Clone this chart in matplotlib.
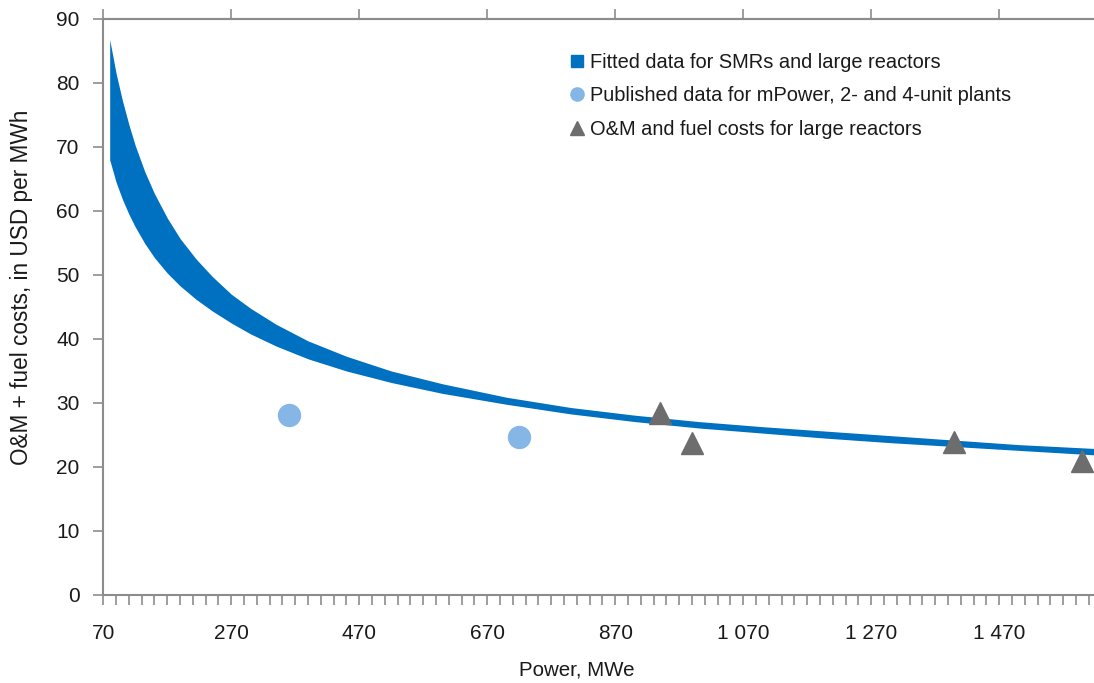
import matplotlib
matplotlib.use("Agg")
import matplotlib.pyplot as plt
from matplotlib.lines import Line2D
import numpy as np

plt.rcParams['font.family'] = ['Liberation Sans', 'DejaVu Sans']

# Fitted band (upper / lower bounds)
band_x = [80, 90, 100, 110, 120, 135, 150, 170, 190, 215, 240, 270, 300, 340, 390,
          450, 520, 600, 700, 800, 900, 1000, 1100, 1200, 1300, 1400, 1500, 1618]
band_upper = [86.8, 81.5, 77.2, 73.5, 70.2, 66.1, 62.7, 58.9, 55.7, 52.5, 49.8, 47.0, 44.8,
              42.3, 39.7, 37.3, 35.0, 33.0, 30.9, 29.3, 28.1, 27.1, 26.3, 25.6, 24.9, 24.2,
              23.5, 22.9]
band_lower = [68.0, 64.5, 61.8, 59.5, 57.5, 54.9, 52.7, 50.3, 48.3, 46.2, 44.4, 42.5, 40.8,
              38.9, 36.9, 35.0, 33.2, 31.5, 29.8, 28.3, 27.1, 26.1, 25.3, 24.5, 23.8, 23.2,
              22.6, 21.9]

# Published data (mPower 2- and 4-unit plants)
pub_x = [360, 720]
pub_y = [28.2, 24.7]

# Large reactors O&M + fuel costs
large_x = [940, 990, 1400, 1600]
large_y = [28.4, 23.8, 23.9, 20.9]

xtick_vals = [70, 270, 470, 670, 870, 1070, 1270, 1470]
xtick_labels = ["70", "270", "470", "670", "870", "1 070", "1 270", "1 470"]
ytick_vals = [0, 10, 20, 30, 40, 50, 60, 70, 80, 90]

legend_labels = ["Fitted data for SMRs and large reactors",
                 "Published data for mPower, 2- and 4-unit plants",
                 "O&M and fuel costs for large reactors"]

BLUE = "#0070C0"
LIGHT = "#85B6E6"
GRAY = "#6D6D6D"
AX = "#8C8C8C"
TXT = "#1a1a1a"

fig = plt.figure(figsize=(10.94, 6.83), dpi=100)
ax = fig.add_axes([103.3 / 1094, 1 - 595 / 683, 1 - 103.3 / 1094, (595 - 19) / 683])

ax.fill_between(band_x, band_lower, band_upper, color=BLUE, linewidth=0, zorder=2)
ax.plot(pub_x, pub_y, linestyle='none', marker='o', ms=15.8, color=LIGHT, zorder=3)
ax.plot(large_x, large_y, linestyle='none', marker='^', ms=16, color=GRAY, zorder=3)

ax.set_xlim(70, 1618)
ax.set_ylim(0, 90)

ax.spines['right'].set_visible(False)
for s in ['left', 'bottom', 'top']:
    ax.spines[s].set_color(AX)
    ax.spines[s].set_linewidth(1.5)

# bottom: labelled ticks every 200, plain ticks every 20
ax.set_xticks(xtick_vals)
ax.set_xticklabels(xtick_labels)
ax.set_xticks(np.arange(70, 1619, 20), minor=True)
ax.tick_params(axis='x', which='both', direction='out', length=7, width=1.2, color=AX)
ax.tick_params(axis='x', which='major', pad=14, labelsize=15, labelcolor=TXT)

ax.set_yticks(ytick_vals)
ax.tick_params(axis='y', direction='out', length=7, width=1.2, color=AX, pad=10,
               labelsize=15, labelcolor=TXT)

sec = ax.secondary_xaxis('top')
sec.set_xticks(xtick_vals)
sec.set_xticklabels([])
sec.tick_params(direction='out', length=7, width=1.2, color=AX)
sec.spines['top'].set_color(AX)
sec.spines['top'].set_linewidth(1.5)

ax.set_xlabel("Power, MWe", fontsize=14.8, color=TXT)
ax.xaxis.set_label_coords((577 - 103.3) / 990.7, (595 - 661) / 576)
ax.set_ylabel("O&M + fuel costs, in USD per MWh", fontsize=16.3, color=TXT)
ax.yaxis.set_label_coords((33 - 103.3) / 990.7, (595 - 287) / 576)

handles = [Line2D([], [], linestyle='none', marker='s', ms=9, color=BLUE),
           Line2D([], [], linestyle='none', marker='o', ms=9.5, color=LIGHT),
           Line2D([], [], linestyle='none', marker='^', ms=9.5, color=GRAY)]
leg = ax.legend(handles, legend_labels, loc='upper left',
                bbox_to_anchor=(568.5 / 1094, 1 - 53 / 683), bbox_transform=fig.transFigure,
                frameon=False, fontsize=14.4, handlelength=0.8, handletextpad=0.25,
                labelspacing=0.72, borderpad=0, borderaxespad=0)
for t in leg.get_texts():
    t.set_color(TXT)

fig.savefig("out.png", dpi=100)
